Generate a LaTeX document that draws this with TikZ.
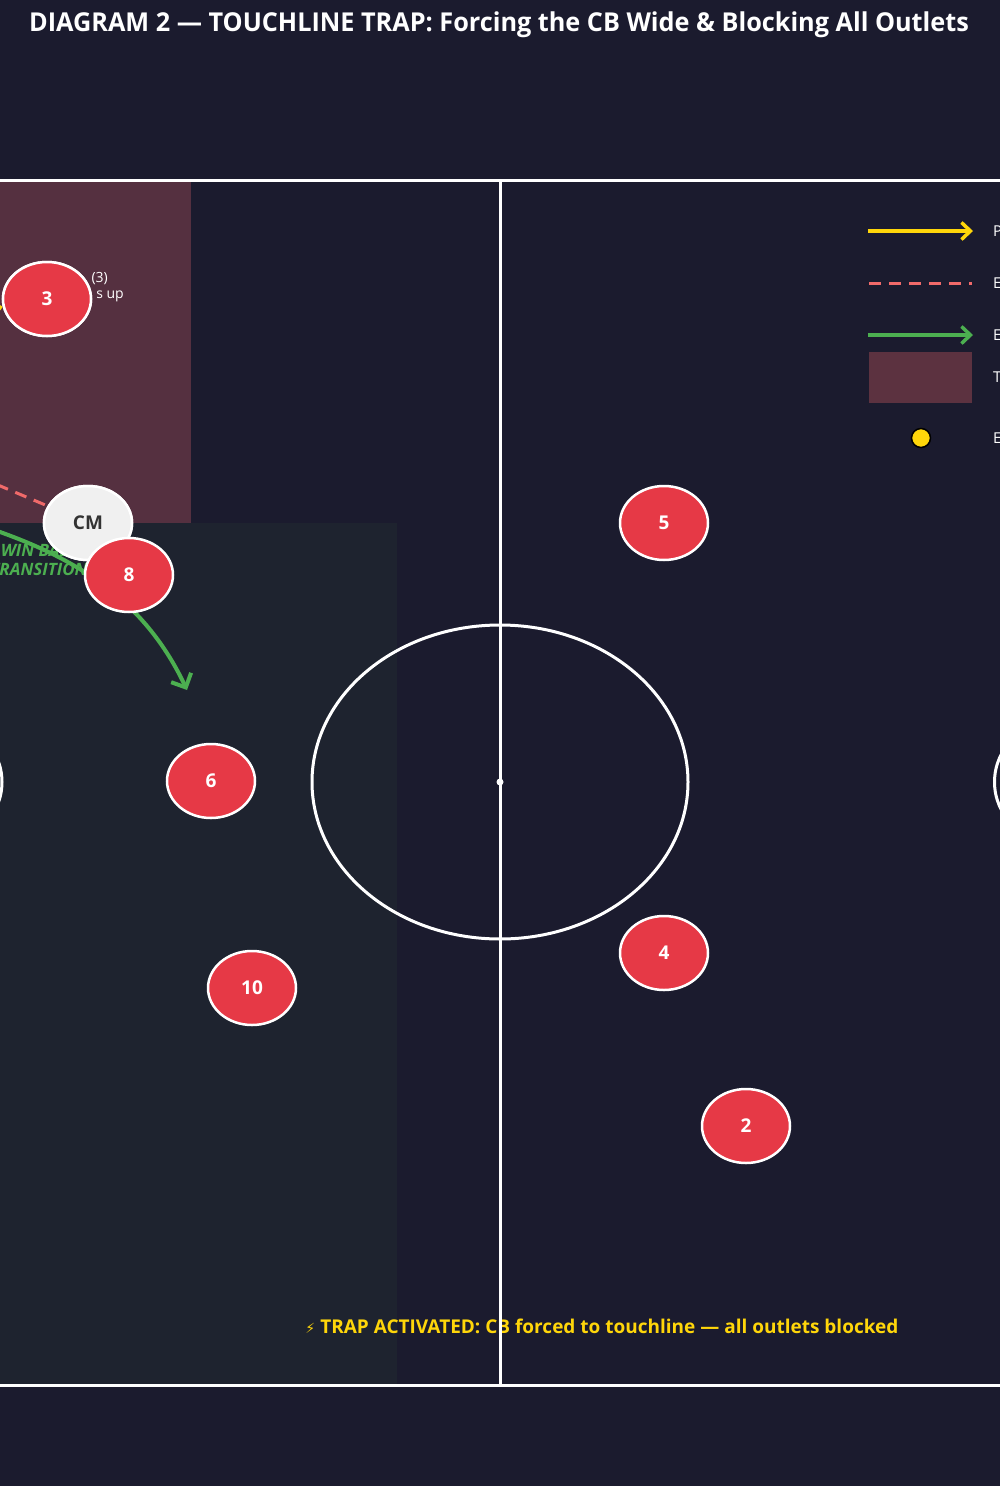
\documentclass[tikz,border=0pt]{standalone}
\usepackage{fontspec}
\IfFontExistsTF{Noto Sans Bold}
  {\setmainfont{Noto Sans}[BoldFont={Noto Sans Bold}, ItalicFont={Noto Sans Italic}, BoldItalicFont={Noto Sans Bold Italic}]}
  {\setmainfont{Open Sans}}
\newfontfamily\symfont{DejaVu Sans}
\usetikzlibrary{arrows.meta,shapes.geometric}
\definecolor{bg}{HTML}{1B1B2E}
\definecolor{zonedark}{HTML}{1E232F}
\definecolor{trapzone}{HTML}{553040}
\definecolor{trapleg}{HTML}{5C3240}
\definecolor{plred}{HTML}{E63946}
\definecolor{cmfill}{HTML}{F0F0F0}
\definecolor{cmtext}{HTML}{333333}
\definecolor{passyel}{HTML}{FFD60A}
\definecolor{blockred}{HTML}{F06A6A}
\definecolor{wingreen}{HTML}{4CAF50}
\tikzset{
  player/.style={ellipse, draw=white, line width=2.5pt, fill=plred, text=white,
    minimum width=88pt, minimum height=74pt, inner sep=0pt,
    font=\fontsize{19}{22}\selectfont\bfseries},
  cmplayer/.style={player, fill=cmfill, text=cmtext},
  pitchline/.style={draw=white, line width=3pt},
  passarrow/.style={draw=passyel, line width=4pt, -{Straight Barb[length=9pt,width=17pt,line width=3.5pt]}},
  blockline/.style={draw=blockred, line width=3pt, dash pattern=on 12pt off 8pt},
  winarrow/.style={draw=wingreen, line width=4pt, -{Straight Barb[length=9pt,width=17pt,line width=3.5pt]}},
  bigwin/.style={draw=wingreen, line width=4pt, -{Straight Barb[length=11pt,width=22pt,line width=4pt]}},
  legtext/.style={anchor=west, text=white, font=\fontsize{15}{18}\selectfont, inner sep=0pt},
  smalllab/.style={anchor=east, text=white, font=\fontsize{14}{17}\selectfont, inner sep=0pt},
}
\begin{document}
\begin{tikzpicture}[x=1pt,y=-1pt]
\useasboundingbox (0,0) rectangle (1000,1486);
\fill[bg] (0,0) rectangle (1000,1486);
% zones
\fill[zonedark] (-10,523) rectangle (397,1385);
\fill[trapzone] (-10,181) rectangle (191,523);
% bottom caption (under pitch lines)
\node[text=passyel, font=\fontsize{19}{23}\selectfont\bfseries] (caption) at (602,1326)
  {{\symfont\fontsize{14}{18}\selectfont ⚡} TRAP ACTIVATED: CB forced to touchline — all outlets blocked};
% pitch lines
\coordinate (tl) at (-10,180); \coordinate (tr) at (1010,180);
\coordinate (bl) at (-10,1385); \coordinate (br) at (1010,1385);
\coordinate (ct) at (500,180); \coordinate (cb) at (500,1385);
\coordinate (cc) at (500,782);
\draw[pitchline] (tl) -- (tr);
\draw[pitchline] (bl) -- (br);
\draw[pitchline] (ct) -- (cb);
\draw[pitchline] (cc) ellipse (188 and 157);
\fill[white] (cc) circle (3.5);
\draw[pitchline] (-58,782) circle (60);
\draw[pitchline] (1054.5,782) circle (60);
% title
\node[text=white, font=\fontsize{26}{30}\selectfont\bfseries] (title) at (499,25)
  {\scalebox{0.971}[1]{DIAGRAM 2 — TOUCHLINE TRAP: Forcing the CB Wide \& Blocking All Outlets}};
% labels partly hidden
\node[smalllab] (lab3a) at (108,279) {(3)};
\node[smalllab] (lab3b) at (124,296) {s up};
\node[align=center, text=wingreen, font=\fontsize{17}{19}\selectfont\bfseries\itshape, inner sep=0pt] (winlab) at (39,560) {WIN BALL\\TRANSITION};
% players
\node[player] (p3) at (47,299) {3};
\node[cmplayer] (cm) at (88,523) {CM};
\coordinate (passsrc) at (-60,318);
\coordinate (blocksrc) at (-40,469);
\coordinate (winsrc) at (-30,522);
\coordinate (wintgt) at (187,690);
\draw[passarrow] (passsrc) -- (p3);
\draw[blockline] (blocksrc) -- (cm);
\draw[bigwin] (winsrc) .. controls (60,550) and (140,590) .. (wintgt);
\node[player] (p3b) at (47,299) {3};
\node[cmplayer] (cmb) at (88,523) {CM};
\node[player] (p8) at (129,575) {8};
\node[player] (p5) at (664,523) {5};
\node[player] (p6) at (211,781) {6};
\node[player] (p10) at (252,988) {10};
\node[player] (p4) at (664,953) {4};
\node[player] (p2) at (746,1126) {2};
% legend
\coordinate (l1a) at (868,231); \coordinate (l1b) at (973,231);
\coordinate (l2a) at (869,283); \coordinate (l2b) at (972,283);
\coordinate (l3a) at (868,335); \coordinate (l3b) at (973,335);
\draw[passarrow] (l1a) -- (l1b);
\draw[blockline] (l2a) -- (l2b);
\draw[winarrow] (l3a) -- (l3b);
\fill[trapleg] (869,352) rectangle (972,403);
\node[circle, fill=passyel, draw=black, line width=1.5pt, minimum size=19pt, inner sep=0pt] (legball) at (921,438) {};
\node[legtext] (lt1) at (993,231) {P};
\node[legtext] (lt2) at (993,283) {E};
\node[legtext] (lt3) at (993,335) {E};
\node[legtext] (lt4) at (993,377) {T};
\node[legtext] (lt5) at (993,438) {E};
\end{tikzpicture}
\end{document}
